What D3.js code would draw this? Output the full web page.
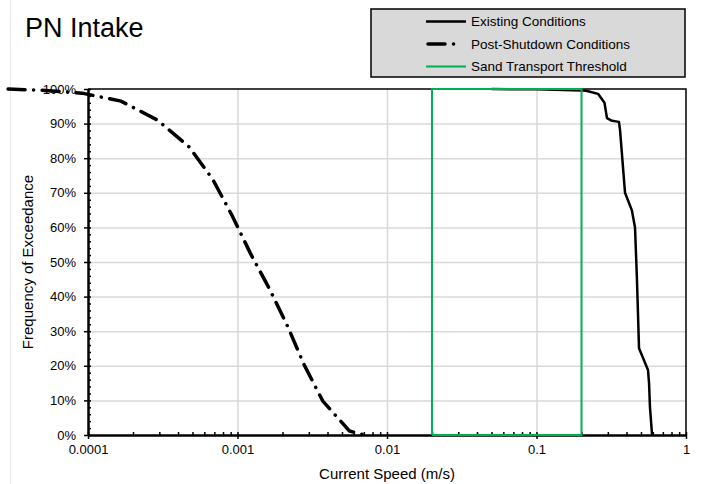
<!DOCTYPE html>
<html lang="en">
<head>
  <meta charset="UTF-8">
  <title>PN Intake</title>
  <script src="https://d3js.org/d3.v7.min.js"></script>
  <style>
    body { margin: 0; background: white; }
    text { font-family: "Liberation Sans", Arial, sans-serif; fill: black; }
    .grid line { stroke: #d9d9d9; stroke-width: 1.5; }
    .grid .domain { stroke: none; }
    .axis .domain { stroke: black; stroke-width: 2; }
    .axis line { stroke: black; stroke-width: 1.5; }
    .axis text { font-size: 13px; }
  </style>
</head>
<body>
  <svg class="chart" width="701" height="484"></svg>
  <script>
    // series (speed in m/s, frequency as fraction)
    const existingSpeed = [0.05, 0.1, 0.2, 0.218, 0.258, 0.285, 0.296, 0.32, 0.356, 0.362, 0.391, 0.434, 0.456, 0.47, 0.485, 0.557, 0.566, 0.574, 0.593];
    const existingFreq = [1.0, 0.999, 0.996, 0.994, 0.986, 0.96, 0.916, 0.908, 0.905, 0.882, 0.70, 0.65, 0.60, 0.448, 0.251, 0.188, 0.15, 0.081, 0.0];

    const postSpeed = [2.92e-5, 5.15e-5, 9.12e-5, 1.66e-4, 2.92e-4, 4.74e-4, 6.83e-4, 9.23e-4, 1.22e-3, 1.65e-3, 2.17e-3, 2.79e-3, 3.72e-3, 5.6e-3, 6.6e-3, 7.5e-3];
    const postFreq = [1.0, 0.996, 0.988, 0.965, 0.91, 0.833, 0.739, 0.633, 0.525, 0.419, 0.313, 0.203, 0.098, 0.012, 0.003, 0.0];

    // sand transport threshold box
    const sandSpeed = [0.02, 0.02, 0.2, 0.2, 0.02];
    const sandFreq = [0, 1, 1, 0, 0];

    const xTicks = [0.0001, 0.001, 0.01, 0.1, 1];
    const xTickLabels = ["0.0001", "0.001", "0.01", "0.1", "1"];
    const yTicks = [0, 0.1, 0.2, 0.3, 0.4, 0.5, 0.6, 0.7, 0.8, 0.9, 1.0];
    const yTickLabels = ["0%", "10%", "20%", "30%", "40%", "50%", "60%", "70%", "80%", "90%", "100%"];

    const seriesNames = ["Existing Conditions", "Post-Shutdown Conditions", "Sand Transport Threshold"];

    const svg = d3.select('svg.chart');
    const plot = { left: 88, right: 686, top: 89, bottom: 435 };

    const x = d3.scaleLog().domain([1e-4, 1]).range([plot.left, plot.right]);
    const y = d3.scaleLinear().domain([0, 1]).range([plot.bottom, plot.top]);

    // faint outer frame edge
    svg.append('line')
      .attr('x1', 10.5).attr('x2', 10.5).attr('y1', 0).attr('y2', 484)
      .attr('stroke', '#e8e8e8').attr('stroke-width', 1);

    // gridlines
    svg.append('g')
      .attr('class', 'grid')
      .attr('transform', `translate(0,${plot.bottom})`)
      .call(d3.axisBottom(x).tickValues(xTicks.slice(1, -1)).tickSize(-(plot.bottom - plot.top)).tickFormat(''));
    svg.append('g')
      .attr('class', 'grid')
      .attr('transform', `translate(${plot.left},0)`)
      .call(d3.axisLeft(y).tickValues(yTicks.slice(1, -1)).tickSize(-(plot.right - plot.left)).tickFormat(''));

    // top and right border
    svg.append('path')
      .attr('d', `M${plot.left},${plot.top}H${plot.right}V${plot.bottom}`)
      .attr('fill', 'none').attr('stroke', 'black').attr('stroke-width', 1.5);

    // minor ticks
    const xMinor = [];
    for (let e = -4; e < 0; e++) {
      for (let m = 1; m < 10; m++) xMinor.push(m * Math.pow(10, e));
    }
    xMinor.push(1);
    const yMinor = d3.range(0, 51).map(i => i / 50);

    svg.append('g')
      .attr('class', 'axis')
      .attr('transform', `translate(0,${plot.bottom})`)
      .call(d3.axisTop(x).tickValues(xMinor).tickSize(3).tickFormat('').tickSizeOuter(0));
    svg.append('g')
      .attr('class', 'axis')
      .attr('transform', `translate(${plot.left},0)`)
      .call(d3.axisRight(y).tickValues(yMinor).tickSize(3).tickFormat('').tickSizeOuter(0));

    // main axes with labels
    svg.append('g')
      .attr('class', 'axis')
      .attr('transform', `translate(0,${plot.bottom})`)
      .call(d3.axisBottom(x).tickValues(xTicks).tickSize(4).tickPadding(6).tickSizeOuter(0)
        .tickFormat((d, i) => xTickLabels[i]));
    svg.append('g')
      .attr('class', 'axis')
      .attr('transform', `translate(${plot.left},0)`)
      .call(d3.axisLeft(y).tickValues(yTicks).tickSize(4).tickPadding(8).tickSizeOuter(0)
        .tickFormat((d, i) => yTickLabels[i]));

    // axis titles
    svg.append('text')
      .attr('x', (plot.left + plot.right) / 2)
      .attr('y', 479)
      .attr('text-anchor', 'middle')
      .style('font-size', '15px')
      .text('Current Speed (m/s)');
    svg.append('text')
      .attr('transform', `translate(33,${(plot.top + plot.bottom) / 2}) rotate(-90)`)
      .attr('text-anchor', 'middle')
      .style('font-size', '15px')
      .text('Frequency of Exceedance');

    // title
    svg.append('text')
      .attr('x', 25)
      .attr('y', 37)
      .style('font-size', '27px')
      .text('PN Intake');

    const line = d3.line().x(d => x(d[0])).y(d => y(d[1]));

    const styles = [
      { stroke: 'black', width: 2.5, dash: null, cap: 'butt' },
      { stroke: 'black', width: 3.5, dash: '17,8.5,0.1,8.5', cap: 'round' },
      { stroke: '#00b050', width: 2, dash: null, cap: 'butt' }
    ];

    const sandData = sandSpeed.map((s, i) => [s, sandFreq[i]]);
    const existingData = existingSpeed.map((s, i) => [s, existingFreq[i]]);
    const postData = postSpeed.map((s, i) => [s, postFreq[i]]);

    svg.append('path').datum(existingData)
      .attr('d', line)
      .attr('fill', 'none')
      .attr('stroke', styles[0].stroke)
      .attr('stroke-width', styles[0].width)
      .attr('stroke-linejoin', 'round');

    svg.append('path').datum(sandData)
      .attr('d', line)
      .attr('fill', 'none')
      .attr('stroke', styles[2].stroke)
      .attr('stroke-width', styles[2].width);

    svg.append('path').datum(postData)
      .attr('d', line)
      .attr('fill', 'none')
      .attr('stroke', styles[1].stroke)
      .attr('stroke-width', styles[1].width)
      .attr('stroke-dasharray', styles[1].dash)
      .attr('stroke-linecap', styles[1].cap);

    // legend
    const legend = svg.append('g');
    legend.append('rect')
      .attr('x', 371).attr('y', 9)
      .attr('width', 314).attr('height', 68)
      .attr('fill', '#d9d9d9')
      .attr('stroke', 'black')
      .attr('stroke-width', 1.5);

    seriesNames.forEach((name, i) => {
      const ly = 21.5 + i * 22.5;
      const st = styles[i];
      legend.append('line')
        .attr('x1', i == 1 ? 428 : 426).attr('x2', i == 1 ? 454 : 466)
        .attr('y1', ly).attr('y2', ly)
        .attr('stroke', st.stroke)
        .attr('stroke-width', st.width)
        .attr('stroke-dasharray', st.dash)
        .attr('stroke-linecap', st.cap);
      legend.append('text')
        .attr('x', 471)
        .attr('y', ly)
        .attr('dy', '0.35em')
        .style('font-size', '13.5px')
        .text(name);
    });
  </script>
</body>
</html>
